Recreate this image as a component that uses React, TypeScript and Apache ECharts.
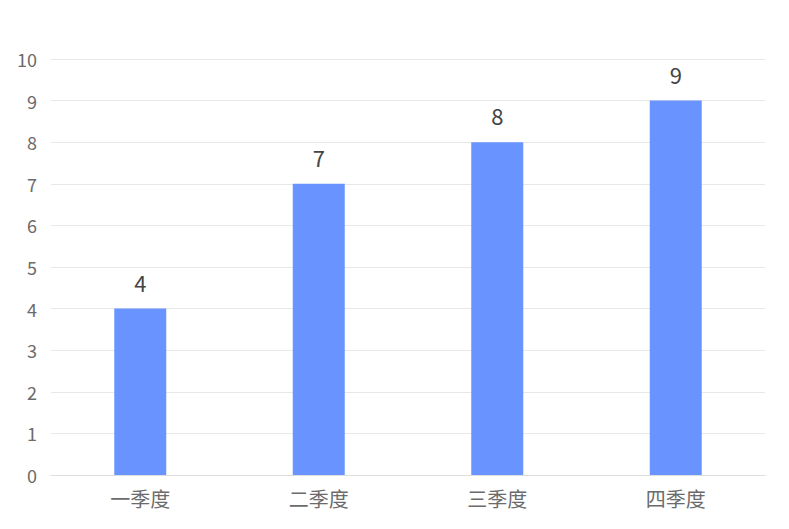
import { useEffect, useRef } from 'react';
import * as echarts from 'echarts';

const categories = ['一季度', '二季度', '三季度', '四季度'];
const values = [4, 7, 8, 9];
const yMax = 10;

export default function App() {
  const chartRef = useRef<HTMLDivElement>(null);

  useEffect(() => {
    if (!chartRef.current) return;
    const chart = echarts.init(chartRef.current, null, { renderer: 'svg' });

    chart.setOption({
      animation: false,
      grid: { left: 51, right: 24, top: 59, bottom: 54 },
      xAxis: {
        type: 'category',
        data: categories,
        axisTick: { show: false },
        axisLine: { lineStyle: { color: '#dddddd', width: 1 } },
        axisLabel: {
          color: '#6b6b6b',
          fontSize: 20,
          margin: 13,
          fontFamily: 'Noto Sans CJK SC',
        },
      },
      yAxis: {
        type: 'value',
        min: 0,
        max: yMax,
        interval: 1,
        axisLine: { show: false },
        axisTick: { show: false },
        splitLine: { lineStyle: { color: '#e8e8e8', width: 1 } },
        axisLabel: {
          color: '#6b6b6b',
          fontSize: 18,
          margin: 14,
          fontFamily: 'Noto Sans CJK SC',
        },
      },
      series: [
        {
          type: 'bar',
          data: values,
          barWidth: 52,
          itemStyle: { color: '#6993ff' },
          label: {
            show: true,
            position: 'top',
            distance: 16,
            color: '#444444',
            fontSize: 22,
            fontFamily: 'Noto Sans CJK SC',
          },
        },
      ],
    });

    return () => {
      chart.dispose();
    };
  }, []);

  return (
    <div
      ref={chartRef}
      style={{ position: 'fixed', left: 0, top: 0, width: '789px', height: '529px', background: '#ffffff' }}
    />
  );
}
